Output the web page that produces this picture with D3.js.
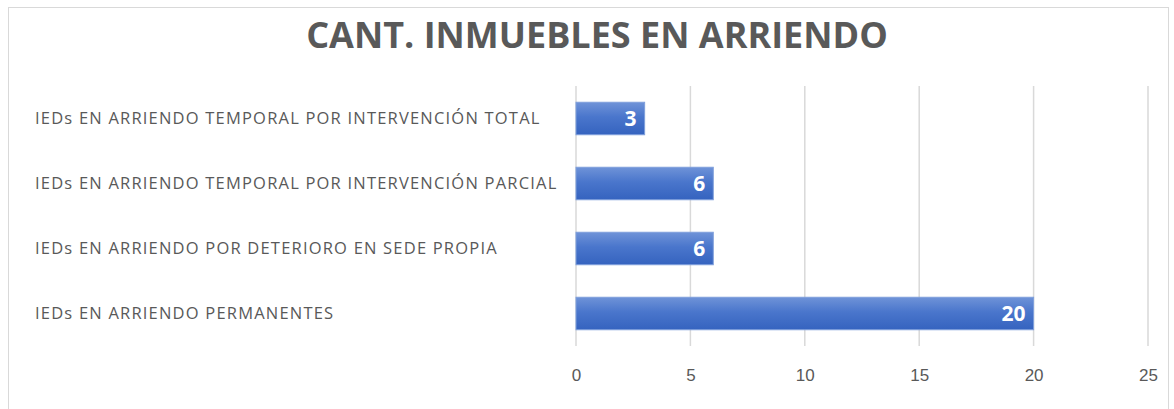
<!DOCTYPE html>
<html>
<head>
<meta charset="utf-8">
<script src="https://cdn.jsdelivr.net/npm/d3@7"></script>
<style>
  body { margin: 0; background: #fff; }
  svg { display: block; font-family: "Open Sans", "Liberation Sans", sans-serif; }
</style>
</head>
<body>
<svg id="chart" width="1174" height="409"></svg>
<script>
// Chart data
const title = "CANT. INMUEBLES EN ARRIENDO";
const categories = [
  "IEDs EN ARRIENDO TEMPORAL POR INTERVENCIÓN TOTAL",
  "IEDs EN ARRIENDO TEMPORAL POR INTERVENCIÓN PARCIAL",
  "IEDs EN ARRIENDO POR DETERIORO EN SEDE PROPIA",
  "IEDs EN ARRIENDO PERMANENTES"
];
const values = [3, 6, 6, 20];
const xTicks = [0, 5, 10, 15, 20, 25];

const svg = d3.select("#chart");
const margin = { top: 86, right: 26, bottom: 63, left: 576 };
const width = 1174 - margin.left - margin.right;
const height = 409 - margin.top - margin.bottom;

// frame
svg.append("rect")
  .attr("x", 8.5).attr("y", 7.5)
  .attr("width", 1160).attr("height", 420)
  .attr("fill", "none")
  .attr("stroke", "#d9d9d9");

// gradient for bars
const grad = svg.append("defs").append("linearGradient")
  .attr("id", "barGrad")
  .attr("x1", 0).attr("y1", 0).attr("x2", 0).attr("y2", 1);
grad.append("stop").attr("offset", "0%").attr("stop-color", "#6f93d8");
grad.append("stop").attr("offset", "45%").attr("stop-color", "#4a76cc");
grad.append("stop").attr("offset", "100%").attr("stop-color", "#3563bf");

const x = d3.scaleLinear().domain([0, 25]).range([0, width]);
const y = d3.scaleBand().domain(categories).range([0, height]).paddingInner(0.5).paddingOuter(0.25);

const g = svg.append("g").attr("transform", `translate(${margin.left},${margin.top})`);

// gridlines
g.append("g")
  .selectAll("line")
  .data(xTicks)
  .enter().append("line")
    .attr("x1", d => x(d)).attr("x2", d => x(d))
    .attr("y1", 0).attr("y2", height)
    .attr("stroke", "#d9d9d9")
    .attr("stroke-width", 1.5);

// x axis labels
g.append("g")
  .attr("transform", `translate(0,${height})`)
  .call(d3.axisBottom(x).tickValues(xTicks).tickSize(0).tickPadding(23))
  .call(a => a.select(".domain").remove())
  .selectAll("text")
    .attr("fill", "#595959")
    .style("font-size", "17px");

// bars
g.selectAll("rect.bar")
  .data(values)
  .enter().append("rect")
    .attr("class", "bar")
    .attr("x", x(0))
    .attr("y", (d, i) => y(categories[i]))
    .attr("width", d => x(d) - x(0))
    .attr("height", y.bandwidth())
    .attr("fill", "url(#barGrad)")
    .attr("stroke", "#7f9fdc")
    .attr("stroke-width", 1);

// value labels
g.selectAll("text.val")
  .data(values)
  .enter().append("text")
    .attr("class", "val")
    .attr("x", d => x(d) - 8)
    .attr("y", (d, i) => y(categories[i]) + y.bandwidth() / 2)
    .attr("dy", "0.36em")
    .attr("text-anchor", "end")
    .attr("fill", "#fff")
    .attr("font-weight", "bold")
    .style("font-size", "21px")
    .text(d => d);

// category labels
g.selectAll("text.cat")
  .data(categories)
  .enter().append("text")
    .attr("class", "cat")
    .attr("x", 35 - margin.left)
    .attr("y", d => y(d) + y.bandwidth() / 2)
    .attr("dy", "0.36em")
    .attr("fill", "#595959")
    .style("font-size", "16.5px")
    .style("letter-spacing", "1.2px")
    .text(d => d);

// title
svg.append("text")
  .attr("x", 597)
  .attr("y", 48)
  .attr("text-anchor", "middle")
  .attr("fill", "#595959")
  .attr("font-weight", "bold")
  .style("font-size", "36px")
  .text(title);
</script>
</body>
</html>
